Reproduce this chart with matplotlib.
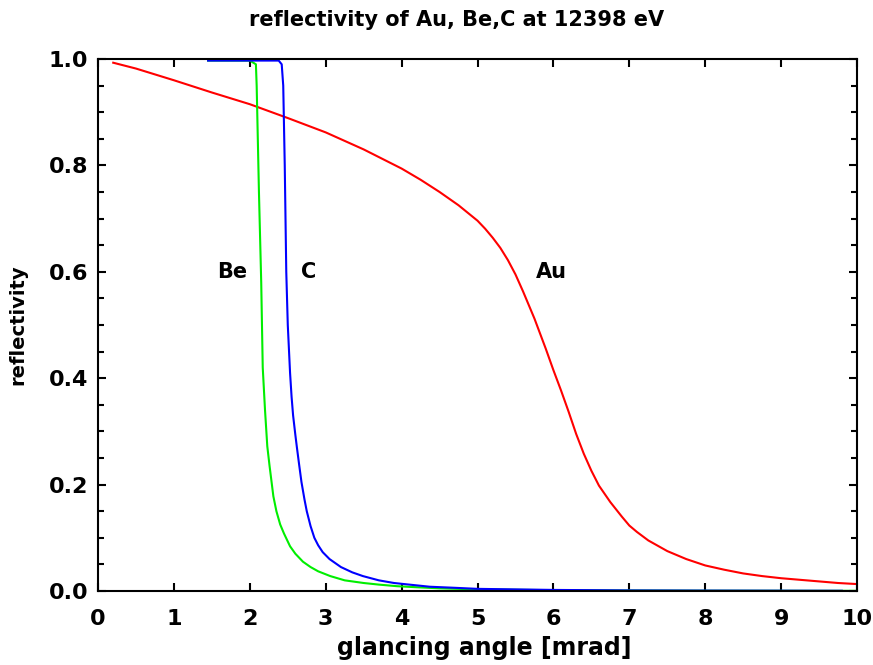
import matplotlib
matplotlib.use("Agg")
import matplotlib.pyplot as plt
from matplotlib.ticker import MultipleLocator, FormatStrFormatter

# ==========================================
# DATA
# ==========================================

au_angle = [0.2, 0.5, 1.0, 1.5, 2.0, 2.5, 3.0, 3.5, 4.0, 4.25, 4.5, 4.75,
            5.0, 5.1, 5.2, 5.3, 5.4, 5.5, 5.6, 5.75, 5.9, 6.0, 6.1, 6.2,
            6.3, 6.4, 6.5, 6.6, 6.75, 6.9, 7.0, 7.1, 7.25, 7.5, 7.75, 8.0,
            8.25, 8.5, 8.75, 9.0, 9.25, 9.5, 9.75, 10.0]
au_refl = [0.993, 0.982, 0.960, 0.937, 0.915, 0.889, 0.862, 0.830, 0.794,
           0.773, 0.750, 0.725, 0.696, 0.681, 0.664, 0.645, 0.622, 0.595,
           0.563, 0.512, 0.455, 0.415, 0.377, 0.337, 0.295, 0.258, 0.226,
           0.198, 0.167, 0.140, 0.123, 0.111, 0.095, 0.075, 0.060, 0.048,
           0.040, 0.033, 0.028, 0.024, 0.021, 0.018, 0.015, 0.013]

be_angle = [1.45, 2.0, 2.08, 2.09, 2.12, 2.15, 2.17, 2.2, 2.23, 2.26, 2.31,
            2.35, 2.4, 2.45, 2.53, 2.6, 2.7, 2.8, 2.9, 3.06, 3.25, 3.5, 3.7,
            3.94, 4.2, 4.5, 5.0, 6.0, 7.0, 8.0, 10.0]
be_refl = [0.997, 0.997, 0.99, 0.95, 0.75, 0.58, 0.42, 0.34, 0.272, 0.235,
           0.178, 0.150, 0.125, 0.108, 0.084, 0.070, 0.055, 0.045, 0.037,
           0.028, 0.020, 0.015, 0.012, 0.009, 0.007, 0.005, 0.003, 0.0015,
           0.001, 0.0006, 0.0003]

c_angle = [1.45, 2.38, 2.42, 2.44, 2.46, 2.48, 2.5, 2.53, 2.55, 2.57, 2.6,
           2.62, 2.65, 2.68, 2.72, 2.75, 2.8, 2.85, 2.9, 2.96, 3.05, 3.2,
           3.35, 3.49, 3.7, 3.9, 4.1, 4.37, 4.7, 5.0, 6.0, 7.0, 8.0, 9.8]
c_refl = [0.997, 0.997, 0.99, 0.95, 0.8, 0.6, 0.5, 0.41, 0.365, 0.33, 0.293,
          0.27, 0.237, 0.205, 0.172, 0.150, 0.122, 0.1, 0.086, 0.073, 0.06,
          0.045, 0.035, 0.028, 0.02, 0.015, 0.012, 0.008, 0.006, 0.004,
          0.002, 0.001, 0.0007, 0.0004]

labels = ["Be", "C", "Au"]
label_x = [1.77, 2.77, 5.97]
label_y = [0.60, 0.60, 0.60]

# ==========================================
# PLOT
# ==========================================

plt.rcParams["font.family"] = "DejaVu Sans"
plt.rcParams["font.weight"] = "bold"

fig = plt.figure(figsize=(8.73, 6.65), dpi=100)
ax = fig.add_axes([0.1123, 0.1113, 0.8694, 0.8000])

ax.plot(au_angle, au_refl, color="#ff0000", lw=1.5)
ax.plot(be_angle, be_refl, color="#00ee00", lw=1.5)
ax.plot(c_angle, c_refl, color="#0000ff", lw=1.5)

for txt, lx, ly in zip(labels, label_x, label_y):
    ax.text(lx, ly, txt, fontsize=15, fontweight="bold", ha="center", va="center")

ax.set_xlim(0, 10)
ax.set_ylim(0, 1)

ax.xaxis.set_major_locator(MultipleLocator(1))
ax.yaxis.set_major_locator(MultipleLocator(0.2))
ax.yaxis.set_minor_locator(MultipleLocator(0.05))
ax.yaxis.set_major_formatter(FormatStrFormatter("%.1f"))

ax.tick_params(which="both", direction="in", top=True, right=True,
               width=1.5, labelsize=16)
ax.tick_params(which="major", length=6)
ax.tick_params(which="minor", length=4.5)
ax.tick_params(axis="x", pad=13)
ax.tick_params(axis="y", pad=7)
for lab in ax.get_xticklabels() + ax.get_yticklabels():
    lab.set_fontweight("bold")

for sp in ax.spines.values():
    sp.set_linewidth(1.5)

ax.set_xlabel("glancing angle [mrad]", fontsize=17, fontweight="bold", labelpad=5)
ax.xaxis.label.set_x(0.509)
ax.set_ylabel("reflectivity", fontsize=14, fontweight="bold", labelpad=15)
ax.set_title("reflectivity of Au, Be,C at 12398 eV", fontsize=15,
             fontweight="bold", pad=24, x=0.472)

fig.savefig("out.png", dpi=100)
